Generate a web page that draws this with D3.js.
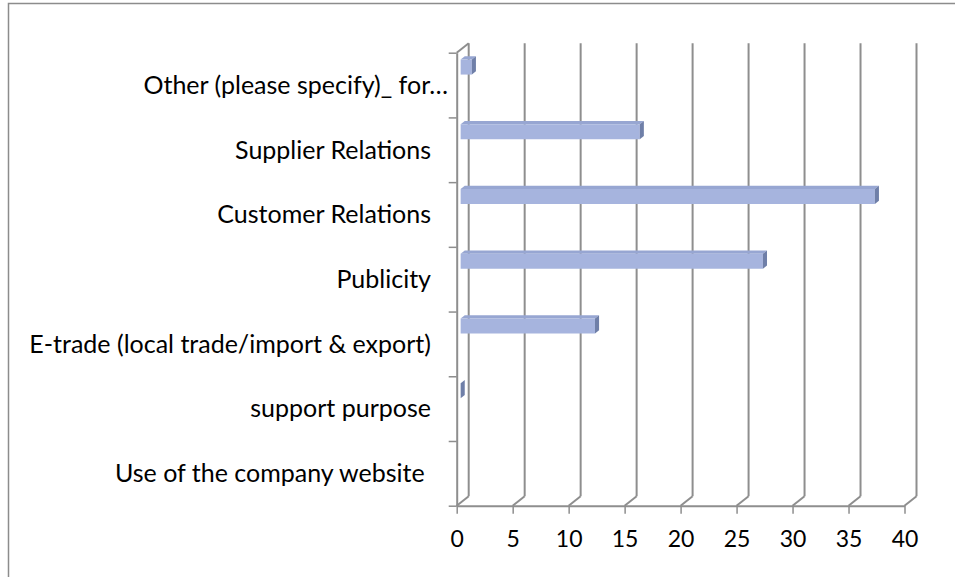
<!DOCTYPE html>
<html lang="en">
<head>
  <meta charset="utf-8">
  <title>Use of the company website</title>
  <script src="https://d3js.org/d3.v7.min.js"></script>
  <style>
    body { margin: 0; background: #fff; }
    .grid { stroke: #8e8e8e; stroke-width: 2; fill: none; }
    .cat-label, .tick text { font-family: Lato, "Open Sans", sans-serif; fill: #000; }
  </style>
</head>
<body>
<svg id="chart" width="955" height="577"></svg>
<script>
  // categories, top to bottom
  const categories = [
    "Other (please specify)_ for\u2026",
    "Supplier Relations",
    "Customer Relations",
    "Publicity",
    "E-trade (local trade/import & export)",
    "support purpose",
    "Use of the company website "
  ];
  const values = [1, 16, 37, 27, 12, 0, null];
  const xTicks = [0, 5, 10, 15, 20, 25, 30, 35, 40];

  const svg = d3.select("#chart");

  // outer frame (runs off the right and bottom edge like the picture)
  svg.append("rect")
    .attr("x", 8.5).attr("y", 3.5)
    .attr("width", 1000).attr("height", 1000)
    .attr("fill", "none")
    .attr("stroke", "#8c8c8c")
    .attr("stroke-width", 1.5);

  // front plane of the 3d box
  const plotL = 456.7, plotR = 904.5, plotT = 52.7, plotB = 505.7;
  // depth offset of the back wall
  const DX = 12, DY = -9.5;

  const x = d3.scaleLinear().domain([0, 40]).range([plotL, plotR]);
  const y = d3.scaleLinear().domain([0, categories.length]).range([plotT, plotB]);

  const proj = (v, yy, z) => [x(v) + z * DX, yy + z * DY];

  // back wall gridlines
  svg.append("g").selectAll("line")
    .data(xTicks)
    .enter().append("line")
    .attr("class", "grid")
    .attr("x1", d => x(d) + DX).attr("y1", plotT + DY)
    .attr("x2", d => x(d) + DX).attr("y2", plotB + DY);

  // floor diagonals
  svg.append("g").selectAll("line")
    .data(xTicks)
    .enter().append("line")
    .attr("class", "grid")
    .attr("x1", d => x(d)).attr("y1", plotB)
    .attr("x2", d => x(d) + DX).attr("y2", plotB + DY);

  // side wall top edge
  svg.append("line")
    .attr("class", "grid")
    .attr("x1", plotL).attr("y1", plotT)
    .attr("x2", plotL + DX).attr("y2", plotT + DY);

  // bars
  const z0 = 0.33, z1 = 0.67;
  const barTop = 10, barBottom = 25;
  const bars = categories.map((c, i) => ({ c, i, v: values[i] })).filter(d => d.v !== null);

  const poly = pts => pts.map(p => p.join(",")).join(" ");

  const g = svg.append("g");
  bars.forEach(d => {
    const y0 = y(d.i) + barTop, y1 = y(d.i) + barBottom;
    // top face
    g.append("polygon")
      .attr("points", poly([proj(0, y0, z0), proj(d.v, y0, z0), proj(d.v, y0, z1), proj(0, y0, z1)]))
      .attr("fill", "#97a6d2");
    // front face
    g.append("polygon")
      .attr("points", poly([proj(0, y0, z0), proj(d.v, y0, z0), proj(d.v, y1, z0), proj(0, y1, z0)]))
      .attr("fill", "#a6b4de");
    // end face
    g.append("polygon")
      .attr("points", poly([proj(d.v, y0, z0), proj(d.v, y0, z1), proj(d.v, y1, z1), proj(d.v, y1, z0)]))
      .attr("fill", "#6f7fa8");
  });

  // value axis at the front
  const xAxis = svg.append("g")
    .attr("transform", `translate(0,${plotB})`)
    .call(d3.axisBottom(x).tickValues(xTicks).tickSize(8).tickPadding(17).tickSizeOuter(0));
  xAxis.select(".domain").attr("stroke", "#8e8e8e").attr("stroke-width", 2);
  xAxis.selectAll(".tick line").attr("stroke", "#8e8e8e").attr("stroke-width", 1.5);
  xAxis.selectAll(".tick text").style("font-size", "23px");

  // category axis at the front
  const yAxis = svg.append("g")
    .attr("transform", `translate(${plotL},0)`)
    .call(d3.axisLeft(y).ticks(categories.length).tickFormat("").tickSize(8).tickSizeOuter(0));
  yAxis.select(".domain").attr("stroke", "#8e8e8e").attr("stroke-width", 2);
  yAxis.selectAll(".tick line").attr("stroke", "#8e8e8e").attr("stroke-width", 1.5);

  // category labels
  svg.append("g").selectAll("text")
    .data(categories)
    .enter().append("text")
    .attr("class", "cat-label")
    .attr("x", d => d.endsWith("\u2026") ? 448 : 431)
    .attr("y", (d, i) => y(i + 0.5))
    .attr("dy", "0.35em")
    .attr("text-anchor", "end")
    .style("font-size", "25px")
    .style("white-space", "pre")
    .text(d => d);
</script>
</body>
</html>
